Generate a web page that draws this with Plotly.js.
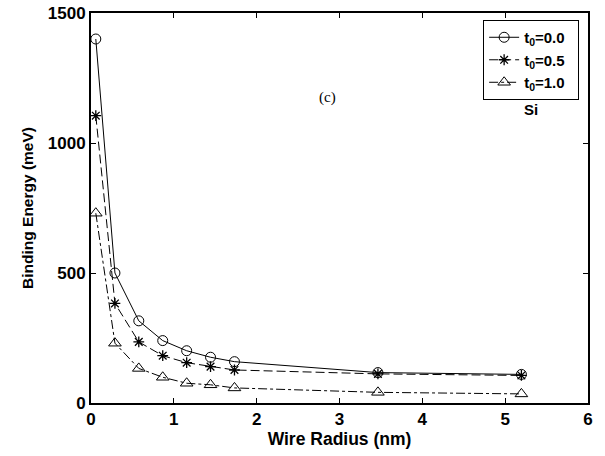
<!DOCTYPE html>
<html><head><meta charset="utf-8">
<script src="https://cdn.plot.ly/plotly-3.0.1.min.js"></script>
<style>body{margin:0;background:#fff}#c{width:605px;height:456px}</style>
</head><body><div id="c"></div>
<script>
var radius = [0.058, 0.289, 0.577, 0.866, 1.155, 1.443, 1.732, 3.464, 5.196];
var e00 = [1400, 500, 316, 240, 201, 176, 159, 117, 110];
var e05 = [1105, 383, 235, 182, 155, 140, 127, 112, 106];
var e10 = [730, 230, 133, 99, 76, 70, 58, 41, 35];
var names = ['t<sub>0</sub>=0.0&nbsp;&nbsp;', 't<sub>0</sub>=0.5&nbsp;&nbsp;', 't<sub>0</sub>=1.0&nbsp;&nbsp;'];
var xTicks = [0, 1, 2, 3, 4, 5, 6];
var yTicks = [0, 500, 1000, 1500];

var traces = [
  {x: radius, y: e00, name: names[0], mode: 'lines+markers',
   line: {color: '#000', width: 1, dash: 'solid'},
   marker: {symbol: 'circle-open', size: 10, color: '#000', line: {width: 1}}},
  {x: radius, y: e05, name: names[1], mode: 'lines+markers',
   line: {color: '#000', width: 1, dash: '9px,4px'},
   marker: {symbol: 'asterisk-open', size: 9, color: '#000', line: {width: 1.3}}},
  {x: radius, y: e10, name: names[2], mode: 'lines+markers',
   line: {color: '#000', width: 1, dash: 'dashdot'},
   marker: {symbol: 'triangle-up-open', size: 11, color: '#000', line: {width: 1}}}
];
var sans = 'Liberation Sans, Arial, sans-serif';
var tickFont = {family: sans, size: 17, color: '#000', weight: 'bold'};
var layout = {
  width: 605, height: 456,
  margin: {l: 91, r: 17, t: 13, b: 53},
  paper_bgcolor: '#fff', plot_bgcolor: '#fff',
  showlegend: true,
  legend: {x: 0.789, y: 0.982, xanchor: 'left', yanchor: 'top', bordercolor: '#000', borderwidth: 1,
           bgcolor: '#fff', font: {family: sans, size: 15, color: '#000', weight: 'bold'},
           tracegroupgap: 0, itemwidth: 30},
  xaxis: {range: [0, 6], tickvals: xTicks, ticktext: xTicks.map(String), ticks: 'inside', ticklen: 5,
          showline: true, linecolor: '#000', linewidth: 2, mirror: 'allticks', showgrid: false, zeroline: false,
          tickfont: tickFont, tickcolor: '#000',
          title: {text: 'Wire Radius (nm)', font: {family: sans, size: 17.5, color: '#000', weight: 'bold'}, standoff: 4}},
  yaxis: {range: [0, 1500], tickvals: yTicks, ticktext: yTicks.map(String), ticks: 'inside', ticklen: 5,
          showline: true, linecolor: '#000', linewidth: 2, mirror: 'allticks', showgrid: false, zeroline: false,
          tickfont: tickFont, tickcolor: '#000',
          title: {text: 'Binding Energy (meV)', font: {family: sans, size: 15.5, color: '#000', weight: 'bold'}, standoff: 10}},
  annotations: [
    {x: 2.85, y: 1175, xref: 'x', yref: 'y', text: '(c)', showarrow: false,
     font: {family: 'Liberation Serif, Times New Roman, serif', size: 15, color: '#000'}},
    {x: 5.31, y: 1127, xref: 'x', yref: 'y', text: 'Si', showarrow: false,
     font: {family: sans, size: 15, color: '#000', weight: 'bold'}}
  ]
};
Plotly.newPlot('c', traces, layout, {displayModeBar: false, staticPlot: true});
</script>
</body></html>
